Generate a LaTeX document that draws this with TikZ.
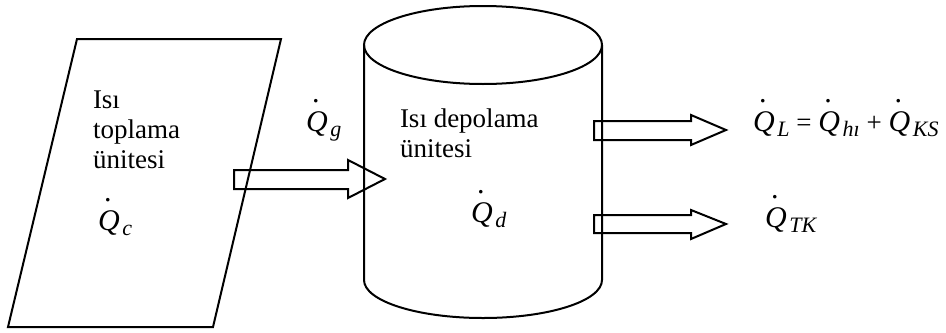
\documentclass[tikz,border=0pt]{standalone}
\usepackage{fontspec}
\setmainfont{Liberation Serif}
\newcommand{\flow}[1]{{\fontsize{15}{15}\selectfont\rlap{\hspace{0.2em}\raisebox{0.95em}{.}}\textit{Q}}\hspace{0.1em}\raisebox{-0.45ex}{\fontsize{11}{11}\selectfont\textit{#1}}}

\begin{document}
\begin{tikzpicture}[x=0.5pt,y=-0.5pt,line width=1pt,
  lbl/.style={font=\fontsize{13.5}{15}\selectfont,inner sep=0pt,anchor=base west,align=left}]
\useasboundingbox (0,0) rectangle (946,332);

% Isi toplama unitesi
\draw (8,327) -- (77,39) -- (281,39) -- (213,327) -- cycle;

% Isi depolama unitesi
\draw (483,45) ellipse[x radius=119,y radius=39];
\draw (364,45) -- (364,280)
  arc[start angle=180,end angle=0,x radius=119,y radius=38]
  -- (602,45);

% Arrows
\draw (234,170) -- (348,170) -- (348,160) -- (385,179)
  -- (348,198) -- (348,189) -- (234,189) -- cycle;
\draw (594,121) -- (691,121) -- (691,115) -- (726,130)
  -- (691,145) -- (691,140) -- (594,140) -- cycle;
\draw (594,215) -- (691,215) -- (691,210) -- (726,224)
  -- (691,239) -- (691,233) -- (594,233) -- cycle;

% Labels (base = last line)
\node[lbl] (toplama) at (92,168) {Isı\\toplama\\ünitesi};
\node[lbl] (qc) at (97,230) {\flow{c}};
\node[lbl] (qg) at (305,131) {\flow{g}};
\node[lbl] (depolama) at (399,157) {Isı depolama\\ünitesi};
\node[lbl] (qd) at (470,222) {\flow{d}};
\node[lbl] (ql) at (752,131) {\flow{L} = \flow{hı} + \flow{KS}};
\node[lbl] (qtk) at (764,227) {\flow{TK}};

\end{tikzpicture}
\end{document}
